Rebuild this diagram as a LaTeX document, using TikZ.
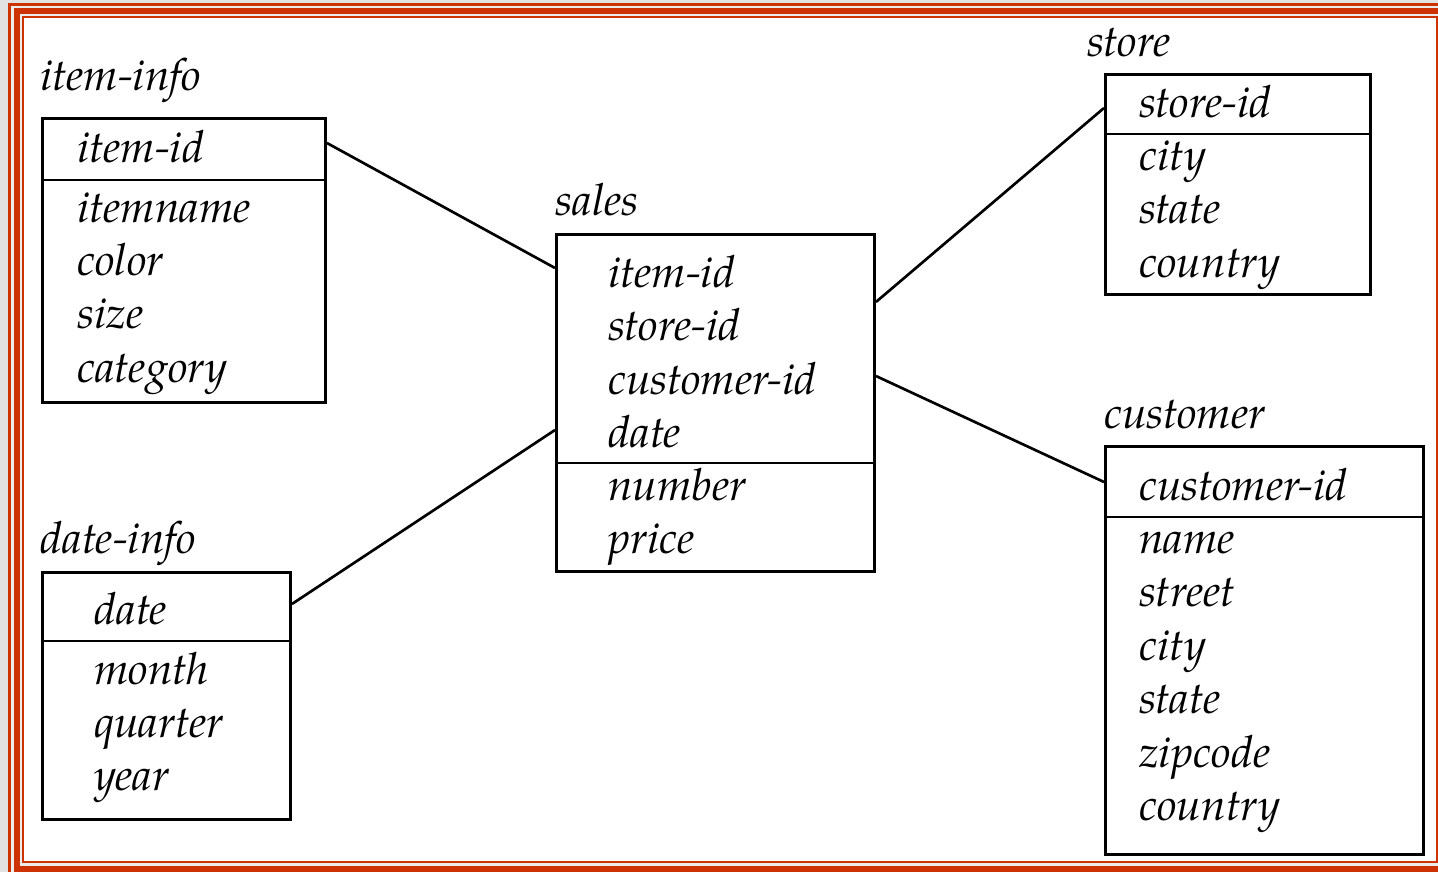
\documentclass[tikz,border=0pt]{standalone}
\usepackage{fontspec}
\setmainfont{TeX Gyre Pagella}
\definecolor{frameorange}{RGB}{204,51,0}
\definecolor{framelight}{RGB}{236,236,236}
\definecolor{framegray}{RGB}{226,226,226}
\begin{document}
\begin{tikzpicture}[x=0.75pt,y=-0.75pt,
  tbl/.style={draw,line width=2.2pt,inner sep=0pt,anchor=north west},
  txt/.style={anchor=base west,inner sep=0pt,font=\fontsize{33.2}{40}\selectfont\itshape},
  sep/.style={line width=1.5pt},
  conn/.style={line width=2pt}]
\useasboundingbox (0,0) rectangle (1438,872);
% frame
\fill[framegray] (0,0) rectangle (1438,872);
\fill[frameorange] (8,3) rectangle (1438,872);
\fill[framelight] (11,6) rectangle (1438,872);
\fill[frameorange] (14,8) rectangle (1438,872);
\fill[framelight] (20,14) rectangle (1438,866);
\fill[frameorange] (22,16) rectangle (1438,863);
\fill[white] (24,18) rectangle (1436,861);
% item-info
\node[txt] (t1) at (40,90) {item-info};
\node[tbl,minimum width=212.25pt,minimum height=213pt] (item) at (41,117) {};
\draw[sep] (item.west |- 0,180) -- (item.east |- 0,180);
\node[txt] (i1) at (77,162) {item-id};
\node[txt] (i2) at (77,222) {itemname};
\node[txt] (i3) at (77,275) {color};
\node[txt] (i4) at (77,328) {size};
\node[txt] (i5) at (77,382) {category};
% date-info
\node[txt] (t2) at (40,553) {date-info};
\node[tbl,minimum width=186pt,minimum height=185.25pt] (dinfo) at (41,571) {};
\draw[sep] (dinfo.west |- 0,641) -- (dinfo.east |- 0,641);
\node[txt] (d1) at (94,624) {date};
\node[txt] (d2) at (94,684) {month};
\node[txt] (d3) at (94,737) {quarter};
\node[txt] (d4) at (94,790) {year};
% sales
\node[txt] (t3) at (555,215) {sales};
\node[tbl,minimum width=238.5pt,minimum height=252.75pt] (sales) at (555,233) {};
\draw[sep] (sales.west |- 0,463) -- (sales.east |- 0,463);
\node[txt] (s1) at (608,287) {item-id};
\node[txt] (s2) at (608,340) {store-id};
\node[txt] (s3) at (608,394) {customer-id};
\node[txt] (s4) at (608,447) {date};
\node[txt] (s5) at (608,500) {number};
\node[txt] (s6) at (608,553) {price};
% store
\node[txt] (t4) at (1087,56) {store};
\node[tbl,minimum width=198.75pt,minimum height=165pt] (store) at (1104,73) {};
\draw[sep] (store.west |- 0,134) -- (store.east |- 0,134);
\node[txt] (r1) at (1139,117) {store-id};
\node[txt] (r2) at (1139,170) {city};
\node[txt] (r3) at (1139,223) {state};
\node[txt] (r4) at (1139,277) {country};
% customer
\node[txt] (t5) at (1104,428) {customer};
\node[tbl,minimum width=238.5pt,minimum height=306pt] (cust) at (1104,445) {};
\draw[sep] (cust.west |- 0,517) -- (cust.east |- 0,517);
\node[txt] (c1) at (1139,500) {customer-id};
\node[txt] (c2) at (1139,553) {name};
\node[txt] (c3) at (1139,606) {street};
\node[txt] (c4) at (1139,660) {city};
\node[txt] (c5) at (1139,713) {state};
\node[txt] (c6) at (1139,767) {zipcode};
\node[txt] (c7) at (1139,820) {country};
% connectors
\draw[conn] ([yshift=-19.5pt]item.north east) -- ([yshift=-26.25pt]sales.north west);
\draw[conn] ([yshift=-24.75pt]dinfo.north east) -- ([yshift=-147.75pt]sales.north west);
\draw[conn] ([yshift=-51.75pt]sales.north east) -- ([yshift=-26.25pt]store.north west);
\draw[conn] ([yshift=-107.25pt]sales.north east) -- ([yshift=-27.75pt]cust.north west);
\end{tikzpicture}
\end{document}
